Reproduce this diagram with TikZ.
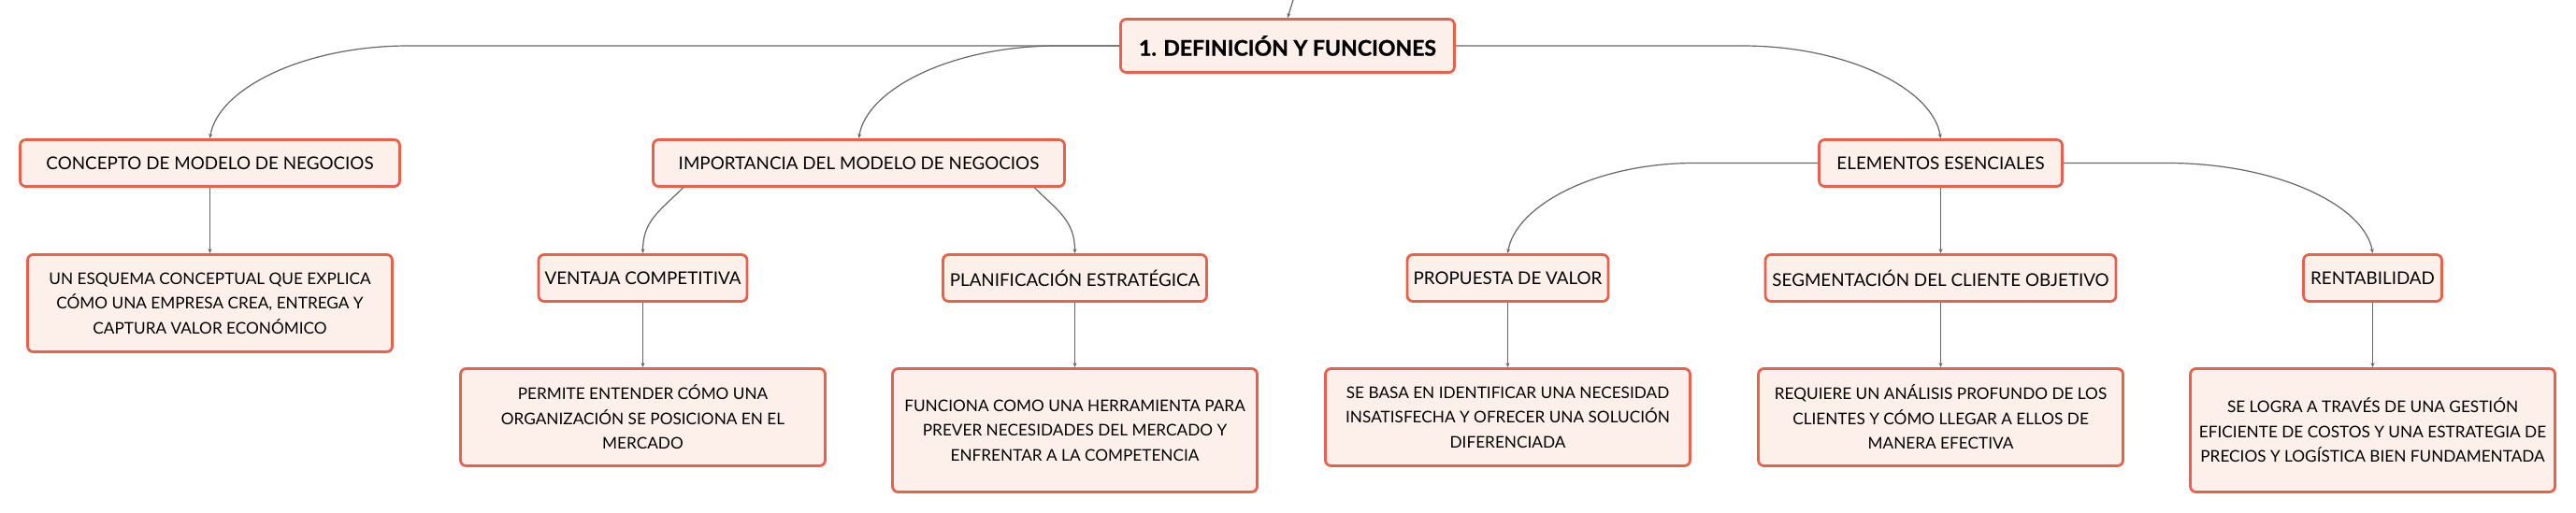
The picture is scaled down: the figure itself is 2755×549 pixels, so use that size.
\documentclass[tikz,border=0pt]{standalone}
\usepackage{fontspec}
\setmainfont{Lato}
\newfontfamily\rootfont[BoldFeatures={FakeBold=1.2}]{Lato}
\usetikzlibrary{arrows.meta,calc}
\definecolor{boxline}{HTML}{E8614C}
\definecolor{boxfill}{HTML}{FDF0EB}
\definecolor{linkgray}{HTML}{666666}

\begin{document}
\begin{tikzpicture}[x=0.5pt,y=-0.5pt,
	box/.style={draw=boxline, fill=boxfill, line width=1.4pt, rounded corners=3pt, inner sep=0pt, align=center, minimum height=25pt, font=\fontsize{9.4}{11}\selectfont},
	rootbox/.style={box, minimum height=28.5pt, font=\fontsize{11.5}{14}\rootfont\bfseries},
	infobox/.style={box, minimum width=195pt, minimum height=52pt, font=\fontsize{8.6}{13.3}\selectfont},
	link/.style={draw=linkgray, line width=0.6pt, -{Stealth[length=2.5pt,width=2pt]}}]
		
		\useasboundingbox (0,0) rectangle (2755,549);
		
		\coordinate (up) at (1383,0);
		\node[rootbox, minimum width=178.5pt] (root) at (1377,49) {1. DEFINICIÓN Y FUNCIONES};
		
		\node[box, minimum width=203pt] (concepto) at (224.5,174.5) {CONCEPTO DE MODELO DE NEGOCIOS};
		\node[box, minimum width=220pt] (importancia) at (918.5,174.5) {IMPORTANCIA DEL MODELO DE NEGOCIOS};
		\node[box, minimum width=130pt] (elementos) at (2075.5,174.5) {ELEMENTOS ESENCIALES};
		
		\node[box, minimum width=111.5pt] (ventaja) at (687.5,297.5) {VENTAJA COMPETITIVA};
		\node[box, minimum width=141pt] (planificacion) at (1149.5,297.5) {PLANIFICACIÓN ESTRATÉGICA};
		\node[box, minimum width=107.5pt] (propuesta) at (1612.5,297.5) {PROPUESTA DE VALOR};
		\node[box, minimum width=187.5pt] (segmentacion) at (2075.5,297.5) {SEGMENTACIÓN DEL CLIENTE OBJETIVO};
		\node[box, minimum width=74pt] (rentabilidad) at (2537.5,297.5) {RENTABILIDAD};
		
		\node[infobox] (conceptoinfo) at (224.5,324.5) {UN ESQUEMA CONCEPTUAL QUE EXPLICA\\CÓMO UNA EMPRESA CREA, ENTREGA Y\\CAPTURA VALOR ECONÓMICO};
		\node[infobox] (ventajainfo) at (687.5,446.5) {PERMITE ENTENDER CÓMO UNA\\ORGANIZACIÓN SE POSICIONA EN EL\\MERCADO};
		\node[infobox, minimum height=66pt] (planificacioninfo) at (1149.5,460.5) {FUNCIONA COMO UNA HERRAMIENTA PARA\\PREVER NECESIDADES DEL MERCADO Y\\ENFRENTAR A LA COMPETENCIA};
		\node[infobox] (propuestainfo) at (1612.5,446.5) {SE BASA EN IDENTIFICAR UNA NECESIDAD\\INSATISFECHA Y OFRECER UNA SOLUCIÓN\\DIFERENCIADA};
		\node[infobox] (segmentacioninfo) at (2075.5,446.5) {REQUIERE UN ANÁLISIS PROFUNDO DE LOS\\CLIENTES Y CÓMO LLEGAR A ELLOS DE\\MANERA EFECTIVA};
		\node[infobox, minimum height=66pt] (rentabilidadinfo) at (2537.5,460.5) {SE LOGRA A TRAVÉS DE UNA GESTIÓN\\EFICIENTE DE COSTOS Y UNA ESTRATEGIA DE\\PRECIOS Y LOGÍSTICA BIEN FUNDAMENTADA};
		
		% branches of the root
		\draw[link] (up) -- (root.north);
		\draw[link] (root.west) -- ($(concepto.north |- root.west)+(213,0)$) .. controls +(-115,0) and +(8,-52) .. (concepto.north);
		\draw[link] (root.west) -- ($(importancia.north |- root.west)+(213,0)$) .. controls +(-115,0) and +(8,-52) .. (importancia.north);
		\draw[link] (root.east) -- ($(elementos.north |- root.east)+(-213,0)$) .. controls +(115,0) and +(-8,-52) .. (elementos.north);
		
		% second level
		\draw[link] ($(importancia.south)+(-188,0)$) .. controls +(-25,25) and +(0,-35) .. (ventaja.north);
		\draw[link] ($(importancia.south)+(188,0)$) .. controls +(25,25) and +(0,-35) .. (planificacion.north);
		\draw[link] (elementos.west) -- ($(propuesta.north |- elementos.west)+(200,0)$) .. controls +(-108,0) and +(8,-50) .. (propuesta.north);
		\draw[link] (elementos.south) -- (segmentacion.north);
		\draw[link] (elementos.east) -- ($(rentabilidad.north |- elementos.east)+(-220,0)$) .. controls +(120,0) and +(-8,-50) .. (rentabilidad.north);
		
		\foreach \a in {concepto,ventaja,planificacion,propuesta,segmentacion,rentabilidad}
			\draw[link] (\a.south) -- (\a info.north);
		
	\end{tikzpicture}
\end{document}
